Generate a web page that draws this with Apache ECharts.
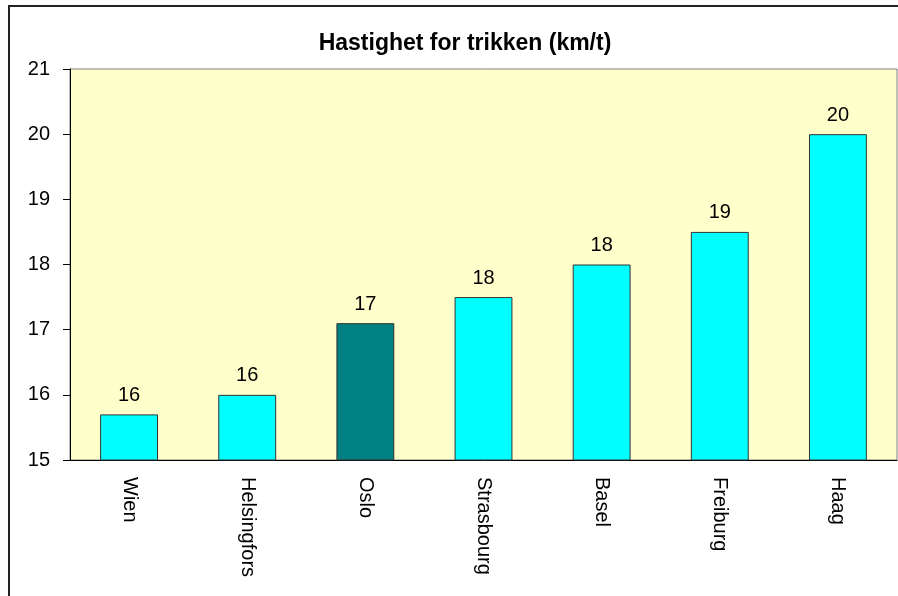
<!DOCTYPE html>
<html>
<head>
<meta charset="utf-8">
<style>
  html, body { margin: 0; padding: 0; background: #ffffff; }
  #chart { width: 898px; height: 596px; }
</style>
<script src="https://cdn.jsdelivr.net/npm/echarts@6/dist/echarts.min.js"></script>
</head>
<body>
<div id="chart"></div>
<script>
// Tram speeds by city (km/h)
const cities = ['Wien', 'Helsingfors', 'Oslo', 'Strasbourg', 'Basel', 'Freiburg', 'Haag'];
const speeds = [15.7, 16.0, 17.1, 17.5, 18.0, 18.5, 20.0];
const highlightCity = 'Oslo';
const yTicks = [15, 16, 17, 18, 19, 20, 21];

const chart = echarts.init(document.getElementById('chart'), null, { renderer: 'canvas' });

const font = '"Liberation Sans", Arial, sans-serif';

chart.setOption({
  animation: false,
  backgroundColor: '#ffffff',
  title: {
    text: 'Hastighet for trikken (km/t)',
    left: 460,
    top: 27,
    textAlign: 'center',
    textStyle: { fontFamily: font, fontSize: 23, fontWeight: 'bold', color: '#000' }
  },
  graphic: [{
    type: 'rect',
    shape: { x: 9, y: 6, width: 900, height: 600 },
    style: { fill: 'none', stroke: '#222', lineWidth: 2 },
    silent: true,
    z: 100
  }],
  grid: {
    left: 70, top: 69, right: 1, bottom: 136,
    show: true,
    backgroundColor: '#FFFFCC',
    borderColor: '#808080',
    borderWidth: 1
  },
  xAxis: {
    type: 'category',
    data: cities,
    axisLine: { show: true, lineStyle: { color: '#000', width: 1 } },
    axisTick: { show: false },
    axisLabel: {
      rotate: -90,
      margin: 17,
      interval: 0,
      fontFamily: font, fontSize: 20, color: '#000'
    }
  },
  yAxis: {
    type: 'value',
    min: yTicks[0],
    max: yTicks[yTicks.length - 1],
    interval: 1,
    axisLine: { show: true, lineStyle: { color: '#000', width: 1 } },
    axisTick: { show: true, length: 7, lineStyle: { color: '#000' } },
    splitLine: { show: false },
    axisLabel: { margin: 20, fontFamily: font, fontSize: 20, color: '#000' }
  },
  series: [{
    type: 'bar',
    data: speeds.map((v, i) => ({
      value: v,
      itemStyle: { color: cities[i] === highlightCity ? '#008080' : '#00FFFF' }
    })),
    barWidth: '49%',
    itemStyle: { borderColor: '#333', borderWidth: 1 },
    label: {
      show: true,
      position: 'top',
      distance: 9,
      formatter: p => String(Math.round(p.value)),
      fontFamily: font, fontSize: 20, color: '#000'
    }
  }]
});
</script>
</body>
</html>
